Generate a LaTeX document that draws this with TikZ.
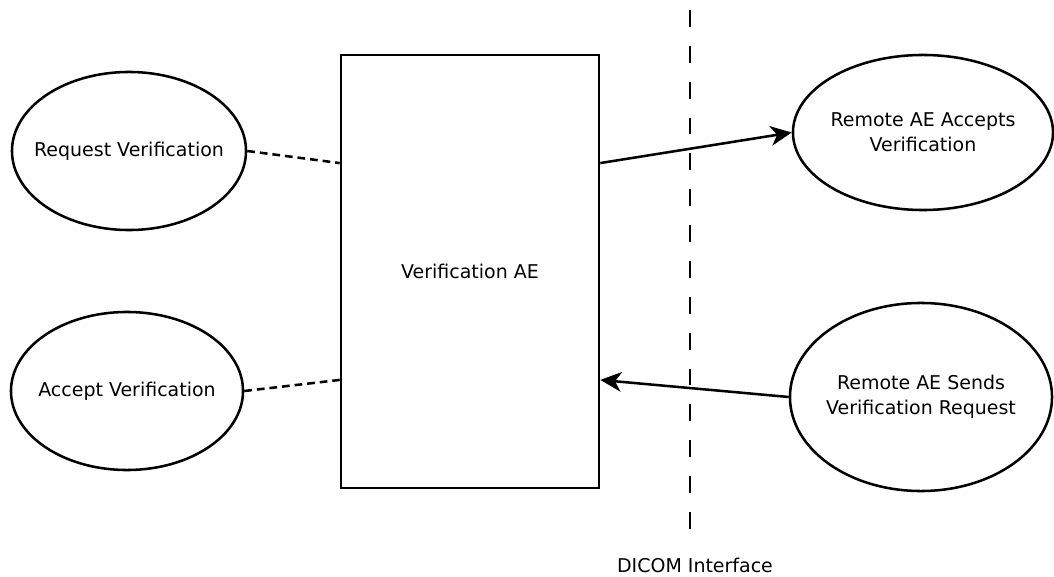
\documentclass[tikz,border=0pt]{standalone}
\usepackage{fontspec}
\setmainfont{DejaVu Sans}
\usetikzlibrary{shapes.geometric,arrows.meta}

\begin{document}
\begin{tikzpicture}[x=0.025cm,y=-0.025cm,
    font=\fontsize{13.5}{17.7}\selectfont,
    usecase/.style={draw,ellipse,line width=1.8pt,inner sep=0pt},
    link/.style={line width=1.8pt,dash pattern=on 5.5pt off 3.5pt},
    flow/.style={line width=1.8pt,-{Stealth[length=15pt,width=14pt,inset=4.5pt]}}]
        \useasboundingbox (0,0) rectangle (1054,577);
        % DICOM interface
        \draw[line width=1.8pt,dash pattern=on 12pt off 13.5pt] (690,10) coordinate (itop) -- (690,535) coordinate (ibot);
        \node (dicom) at (695,565) {DICOM Interface};
        % Application entity
        \node[draw,line width=1.8pt,minimum width=6.45cm,minimum height=10.825cm] (ae) at (470,271.5) {Verification AE};
        % Local use cases
        \node[usecase,minimum width=5.85cm,minimum height=3.95cm,
              label={center:Request Verification}] (req) at (129,151) {};
        \node[usecase,minimum width=5.8cm,minimum height=3.95cm,
              label={center:Accept Verification}] (accv) at (127,391) {};
        % Remote use cases
        \node[usecase,minimum width=6.5cm,minimum height=3.875cm,
              label={[align=center]center:Remote AE Accepts\\Verification}] (remacc) at (923,132.5) {};
        \node[usecase,minimum width=6.55cm,minimum height=4.7cm,
              label={[align=center]center:Remote AE Sends\\Verification Request}] (remsnd) at (921,397) {};
        % Liens
        \draw[link] (req.east) -- ([yshift=2.71cm]ae.west);
        \draw[link] (accv.east) -- ([yshift=-2.71cm]ae.west);
        \draw[flow] ([yshift=2.71cm]ae.east) -- (remacc.west);
        \draw[flow] (remsnd.west) -- ([yshift=-2.71cm]ae.east);
\end{tikzpicture}
\end{document}
